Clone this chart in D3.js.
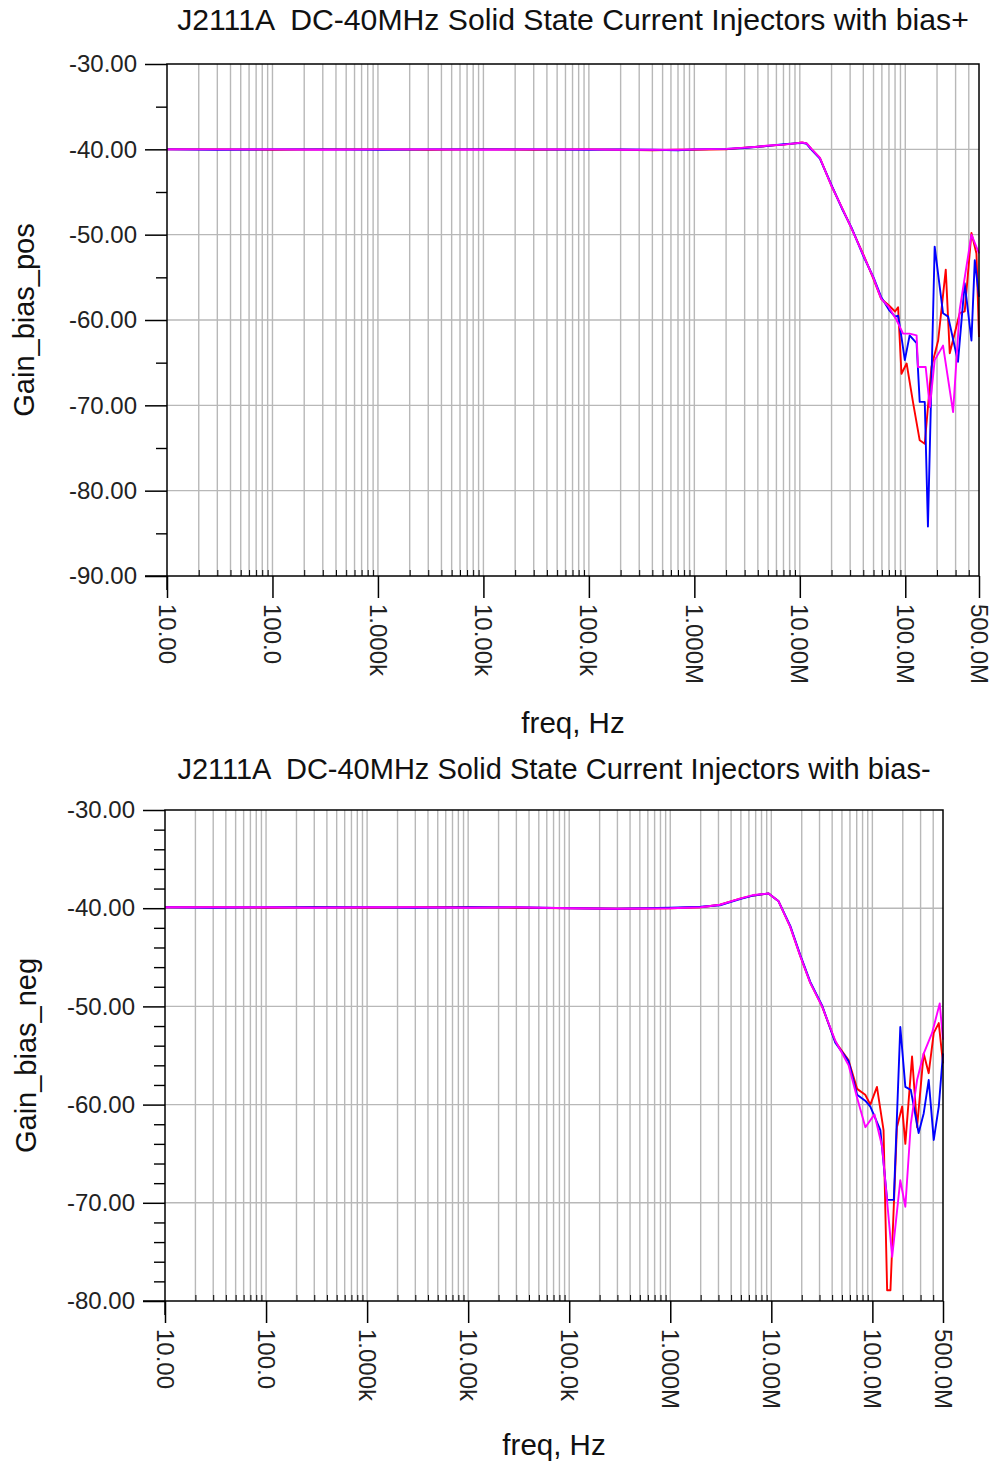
<!DOCTYPE html>
<html>
<head>
<meta charset="utf-8">
<script src="https://cdn.jsdelivr.net/npm/d3@7"></script>
<style>
  html, body { margin: 0; padding: 0; background: #ffffff; }
  svg { display: block; font-family: "Liberation Sans", Arial, sans-serif; }
  text { white-space: pre; }
</style>
</head>
<body>
<svg id="chart" width="997" height="1463"></svg>
<script>
// ---------------- DATA ----------------
const titleTop = "J2111A  DC-40MHz Solid State Current Injectors with bias+";
const titleBottom = "J2111A  DC-40MHz Solid State Current Injectors with bias-";
const yTitleTop = "Gain_bias_pos";
const yTitleBottom = "Gain_bias_neg";
const xTitle = "freq, Hz";

const xTickValues = [10, 100, 1e3, 1e4, 1e5, 1e6, 1e7, 1e8, 5e8];
const xTickLabels = ["10.00", "100.0", "1.000k", "10.00k", "100.0k", "1.000M", "10.00M", "100.0M", "500.0M"];
const yTicksTop = [-30, -40, -50, -60, -70, -80, -90];
const yTicksBottom = [-30, -40, -50, -60, -70, -80];

// Top chart (bias+) : [freq Hz, gain dB]
const topRed = [
  [10,-40.0],[30,-40.0],[100,-40.05],[300,-40.0],[1e3,-40.0],[3e3,-40.05],[1e4,-40.0],[3e4,-40.05],
  [1e5,-40.0],[2e5,-40.05],[4e5,-40.1],[7e5,-40.05],[1e6,-40.05],[2e6,-40.0],[3e6,-39.8],[4e6,-39.7],
  [5e6,-39.6],[7e6,-39.45],[9e6,-39.3],[1.05e7,-39.2],[1.16e7,-39.3],[1.3e7,-40.0],[1.55e7,-41.0],
  [2e7,-44.3],[2.5e7,-46.8],[3.1e7,-49.3],[4e7,-52.3],[5e7,-55.2],[5.9e7,-57.5],[7e7,-58.3],[8e7,-59.0],
  [8.55e7,-58.5],[9.2e7,-66.3],[1.03e8,-65.1],[1.19e8,-69.8],[1.37e8,-74.1],[1.53e8,-74.5],[1.77e8,-65.5],
  [2.05e8,-62.4],[2.42e8,-54.1],[2.64e8,-63.9],[3.28e8,-59.2],[3.66e8,-59.0],[4.24e8,-49.8],[4.73e8,-52.2],[5e8,-62.0]
];
const topBlue = [
  [10,-40.0],[30,-40.05],[100,-40.0],[300,-40.0],[1e3,-40.05],[3e3,-40.0],[1e4,-40.0],[3e4,-40.0],
  [1e5,-40.05],[2e5,-40.0],[4e5,-40.05],[7e5,-40.1],[1e6,-40.0],[2e6,-39.95],[3e6,-39.85],[4e6,-39.7],
  [5e6,-39.6],[7e6,-39.4],[9e6,-39.3],[1.05e7,-39.25],[1.16e7,-39.35],[1.3e7,-40.1],[1.55e7,-41.1],
  [2e7,-44.2],[2.5e7,-46.9],[3.1e7,-49.2],[4e7,-52.5],[5e7,-55.0],[5.9e7,-57.3],[7e7,-58.8],[8e7,-59.6],
  [8.55e7,-59.5],[9.2e7,-62.0],[9.9e7,-64.7],[1.1e8,-61.8],[1.28e8,-62.7],[1.37e8,-69.6],[1.53e8,-69.6],
  [1.64e8,-84.2],[1.9e8,-51.4],[2.28e8,-59.2],[2.55e8,-59.6],[3.16e8,-64.9],[3.66e8,-55.7],[4.24e8,-62.4],
  [4.56e8,-53.0],[5e8,-57.3]
];
const topMagenta = [
  [10,-40.0],[30,-40.0],[100,-40.0],[300,-40.05],[1e3,-40.0],[3e3,-40.0],[1e4,-40.05],[3e4,-40.0],
  [1e5,-40.0],[2e5,-40.05],[4e5,-40.05],[7e5,-40.05],[1e6,-40.0],[2e6,-39.95],[3e6,-39.8],[4e6,-39.7],
  [5e6,-39.55],[7e6,-39.45],[9e6,-39.3],[1.05e7,-39.2],[1.16e7,-39.3],[1.3e7,-40.0],[1.55e7,-41.0],
  [2e7,-44.3],[2.5e7,-46.8],[3.1e7,-49.3],[4e7,-52.4],[5e7,-55.1],[5.9e7,-57.5],[7e7,-58.5],[8.26e7,-60.0],
  [9.53e7,-61.6],[1.1e8,-61.6],[1.28e8,-61.8],[1.32e8,-65.5],[1.56e8,-65.5],[1.71e8,-70.2],[1.9e8,-64.7],
  [2.28e8,-63.0],[2.84e8,-70.8],[3.28e8,-58.8],[4.24e8,-50.0],[5e8,-52.2]
];

// Bottom chart (bias-) : [freq Hz, gain dB]
const botRed = [
  [10,-39.9],[30,-39.9],[100,-39.95],[300,-39.9],[1e3,-39.95],[3e3,-39.9],[1e4,-39.9],[3e4,-39.95],
  [1e5,-40.0],[3e5,-40.05],[1e6,-40.0],[2e6,-39.9],[3.1e6,-39.65],[5e6,-39.0],[6.7e6,-38.7],[9.4e6,-38.5],
  [1.18e7,-39.3],[1.54e7,-41.9],[1.94e7,-44.9],[2.43e7,-47.6],[3.18e7,-50.0],[4.3e7,-53.6],[5.82e7,-55.5],
  [7.06e7,-58.4],[8.5e7,-59.0],[9.55e7,-60.0],[1.11e8,-58.2],[1.29e8,-62.6],[1.4e8,-78.9],[1.51e8,-78.9],
  [1.75e8,-62.3],[1.97e8,-60.2],[2.12e8,-64.0],[2.47e8,-55.1],[2.77e8,-62.3],[3.22e8,-54.8],[3.61e8,-56.8],
  [4.05e8,-52.7],[4.54e8,-51.7],[5e8,-55.8]
];
const botBlue = [
  [10,-39.9],[30,-39.95],[100,-39.9],[300,-39.9],[1e3,-39.9],[3e3,-39.95],[1e4,-39.9],[3e4,-39.9],
  [1e5,-40.0],[3e5,-40.05],[1e6,-39.95],[2e6,-39.85],[3.1e6,-39.7],[5e6,-39.05],[6.7e6,-38.7],[9.4e6,-38.5],
  [1.18e7,-39.3],[1.54e7,-41.8],[1.94e7,-44.8],[2.43e7,-47.5],[3.18e7,-49.9],[4.3e7,-53.7],[5.82e7,-55.6],
  [7.06e7,-59.0],[8.5e7,-59.6],[9.55e7,-60.2],[1.2e8,-62.6],[1.4e8,-69.7],[1.63e8,-69.7],[1.89e8,-52.1],
  [2.12e8,-58.2],[2.4e8,-58.5],[2.87e8,-62.9],[3.22e8,-60.9],[3.61e8,-57.5],[4.05e8,-63.6],[4.54e8,-60.2],
  [5e8,-54.8]
];
const botMagenta = [
  [10,-39.9],[30,-39.9],[100,-39.9],[300,-39.95],[1e3,-39.9],[3e3,-39.9],[1e4,-39.95],[3e4,-39.9],
  [1e5,-40.0],[3e5,-40.05],[1e6,-40.0],[2e6,-39.9],[3.1e6,-39.65],[5e6,-39.0],[6.7e6,-38.65],[9.4e6,-38.5],
  [1.18e7,-39.3],[1.54e7,-41.9],[1.94e7,-44.9],[2.43e7,-47.6],[3.18e7,-50.0],[4.3e7,-53.5],[5.82e7,-56.0],
  [7.06e7,-59.3],[8.53e7,-62.3],[1.05e8,-61.0],[1.25e8,-64.3],[1.57e8,-75.5],[1.89e8,-67.7],[2.12e8,-70.4],
  [2.4e8,-62.0],[2.77e8,-57.5],[3.22e8,-54.8],[3.9e8,-52.7],[4.64e8,-49.7],[5e8,-53.4]
];

// ---------------- DRAW ----------------
const svg = d3.select("#chart");
const colors = { red: "#ff0000", blue: "#0000ff", magenta: "#ff00ff" };
const FONT = "'Liberation Sans', Arial, sans-serif";

function drawPanel(cfg) {
  const g = svg.append("g");
  const x = d3.scaleLog().domain([10, 5e8]).range([cfg.x0, cfg.x1]);
  const y = d3.scaleLinear().domain([cfg.yMin, cfg.yMax]).range([cfg.y1, cfg.y0]);

  // vertical grid lines at 1..9 x decade
  const gridX = [];
  for (let e = 1; e <= 8; e++) {
    for (let m = 1; m <= 9; m++) {
      const v = m * Math.pow(10, e);
      if (v > 10 && v < 5e8) gridX.push(v);
    }
  }
  g.append("g").selectAll("line").data(gridX).join("line")
    .attr("x1", d => x(d)).attr("x2", d => x(d))
    .attr("y1", cfg.y0).attr("y2", cfg.y1)
    .attr("stroke", "#b8b8b8").attr("stroke-width", 1.4);

  // horizontal grid lines at major ticks
  const gridY = cfg.yTicks.filter(v => v !== cfg.yMin && v !== cfg.yMax);
  g.append("g").selectAll("line").data(gridY).join("line")
    .attr("x1", cfg.x0).attr("x2", cfg.x1)
    .attr("y1", d => y(d)).attr("y2", d => y(d))
    .attr("stroke", "#b8b8b8").attr("stroke-width", 1.4);

  // data lines
  const line = d3.line().x(d => x(d[0])).y(d => y(d[1]));
  cfg.series.forEach(s => {
    g.append("path").datum(s.data)
      .attr("d", line)
      .attr("fill", "none")
      .attr("stroke", s.color)
      .attr("stroke-width", 1.9)
      .attr("stroke-linejoin", "round");
  });

  // frame
  g.append("rect")
    .attr("x", cfg.x0).attr("y", cfg.y0)
    .attr("width", cfg.x1 - cfg.x0).attr("height", cfg.y1 - cfg.y0)
    .attr("fill", "none").attr("stroke", "#000").attr("stroke-width", 1.5);

  // extended axis lines
  g.append("line").attr("x1", cfg.x0 - 22).attr("x2", cfg.x0)
    .attr("y1", cfg.y1).attr("y2", cfg.y1).attr("stroke", "#000").attr("stroke-width", 1.5);
  g.append("line").attr("x1", cfg.x0).attr("x2", cfg.x0)
    .attr("y1", cfg.y1).attr("y2", cfg.y1 + 14).attr("stroke", "#000").attr("stroke-width", 1.5);

  // y axis (major ticks with labels)
  const yAxis = d3.axisLeft(y).tickValues(cfg.yTicks)
    .tickSize(22).tickPadding(8).tickFormat(d => d.toFixed(2));
  const ya = g.append("g").attr("transform", `translate(${cfg.x0},0)`).call(yAxis);
  ya.select(".domain").remove();
  ya.selectAll(".tick line").attr("stroke", "#000").attr("stroke-width", 1.5);
  ya.selectAll(".tick text").attr("font-size", 24).attr("font-family", FONT).attr("fill", "#222");

  // y minor ticks
  const minorY = d3.range(cfg.yMin, cfg.yMax, cfg.yMinorStep).filter(v => !cfg.yTicks.includes(v));
  const yMinorAxis = d3.axisLeft(y).tickValues(minorY).tickSize(11).tickFormat("");
  const ym = g.append("g").attr("transform", `translate(${cfg.x0},0)`).call(yMinorAxis);
  ym.select(".domain").remove();
  ym.selectAll(".tick line").attr("stroke", "#000").attr("stroke-width", 1.4);

  // x axis major ticks
  const xAxis = d3.axisBottom(x).tickValues(xTickValues).tickSize(22).tickFormat("");
  const xa = g.append("g").attr("transform", `translate(0,${cfg.y1})`).call(xAxis);
  xa.select(".domain").remove();
  xa.selectAll(".tick line").attr("stroke", "#000").attr("stroke-width", 1.5);

  // x minor ticks (small, pointing up into plot)
  const minorX = gridX.filter(v => !xTickValues.includes(v));
  const xMinorAxis = d3.axisTop(x).tickValues(minorX).tickSize(6).tickFormat("");
  const xm = g.append("g").attr("transform", `translate(0,${cfg.y1})`).call(xMinorAxis);
  xm.select(".domain").remove();
  xm.selectAll(".tick line").attr("stroke", "#000").attr("stroke-width", 1);

  // x tick labels rotated
  g.append("g").selectAll("text").data(xTickValues).join("text")
    .attr("transform", (d) => `translate(${x(d)},${cfg.y1 + 28}) rotate(90)`)
    .attr("dy", "0.35em")
    .attr("text-anchor", "start")
    .attr("font-size", 24).attr("font-family", FONT).attr("fill", "#222")
    .text((d, i) => xTickLabels[i]);

  // titles
  g.append("text").attr("x", (cfg.x0 + cfg.x1) / 2).attr("y", cfg.titleY)
    .attr("text-anchor", "middle").attr("font-size", cfg.titleSize).attr("font-family", FONT).attr("fill", "#111")
    .attr("xml:space", "preserve")
    .text(cfg.title);
  g.append("text").attr("x", (cfg.x0 + cfg.x1) / 2).attr("y", cfg.xTitleY)
    .attr("text-anchor", "middle").attr("font-size", 29.5).attr("font-family", FONT).attr("fill", "#111")
    .text(xTitle);
  g.append("text")
    .attr("transform", `translate(${cfg.yTitleX},${(cfg.y0 + cfg.y1) / 2}) rotate(-90)`)
    .attr("text-anchor", "middle").attr("font-size", 29).attr("font-family", FONT).attr("fill", "#111")
    .text(cfg.yTitle);
}

drawPanel({
  x0: 167, x1: 979, y0: 64, y1: 576,
  yMin: -90, yMax: -30, yTicks: yTicksTop, yMinorStep: 5,
  title: titleTop, titleSize: 30.2, titleY: 30, xTitleY: 733, yTitleX: 34, yTitle: yTitleTop,
  series: [
    { data: topRed, color: colors.red },
    { data: topBlue, color: colors.blue },
    { data: topMagenta, color: colors.magenta }
  ]
});

drawPanel({
  x0: 165, x1: 943, y0: 810, y1: 1301,
  yMin: -80, yMax: -30, yTicks: yTicksBottom, yMinorStep: 2,
  title: titleBottom, titleSize: 29, titleY: 779, xTitleY: 1455, yTitleX: 36, yTitle: yTitleBottom,
  series: [
    { data: botRed, color: colors.red },
    { data: botBlue, color: colors.blue },
    { data: botMagenta, color: colors.magenta }
  ]
});
</script>
</body>
</html>
